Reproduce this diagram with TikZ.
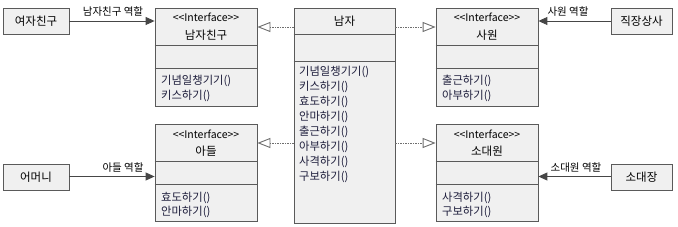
\documentclass[tikz,border=0pt]{standalone}
\usepackage{fontspec}
\setmainfont{Noto Sans CJK KR}
\usetikzlibrary{arrows.meta,shadows}
\definecolor{boxline}{RGB}{90,90,90}
\definecolor{boxfill}{RGB}{240,240,240}
\definecolor{optext}{RGB}{30,30,60}
\definecolor{arrowcol}{RGB}{70,70,70}
\definecolor{dotcol}{RGB}{110,110,110}
\newcommand{\stereotxt}{{<}{<}Interface{>}{>}}
\tikzset{
  umlbox/.style={draw=boxline, fill=boxfill, line width=0.8pt, inner sep=0pt,
    drop shadow={shadow xshift=1.3pt, shadow yshift=-1.3pt, opacity=0.3}},
  actor/.style={umlbox, minimum height=26pt, font=\fontsize{11.5}{13}\selectfont},
  stereo/.style={font=\fontsize{10.5}{12}\selectfont, inner sep=0pt},
  cname/.style={font=\fontsize{11.5}{13}\selectfont, inner sep=0pt},
  opline/.style={font=\fontsize{11.3}{13}\selectfont, anchor=west, inner sep=0pt, text=optext},
  role/.style={font=\fontsize{10.5}{12}\selectfont, inner sep=0pt},
  divider/.style={draw=boxline, line width=0.8pt},
  assoc/.style={draw=arrowcol, line width=0.9pt, -{Triangle[length=9pt,width=8pt]}},
  realize/.style={draw=dotcol, line width=0.9pt, dash pattern=on 1.5pt off 1pt,
    -{Triangle[open,length=13pt,width=10pt,fill=white]}},
}
\begin{document}
\begin{tikzpicture}[x=1pt,y=-1pt]
\useasboundingbox (0,0) rectangle (678,227);

% actors
\node[actor, minimum width=66pt] (gf) at (36,21) {여자친구};
\node[actor, minimum width=61pt] (boss) at (641.5,21) {직장상사};
\node[actor, minimum width=66pt] (mom) at (36,177) {어머니};
\node[actor, minimum width=61pt] (sgt) at (641.5,177) {소대장};

% interface boxes
\node[umlbox, minimum width=102pt, minimum height=98pt] (bf) at (206,57) {};
\node[umlbox, minimum width=102pt, minimum height=98pt] (emp) at (487,57) {};
\node[umlbox, minimum width=102pt, minimum height=97pt] (son) at (206,172.5) {};
\node[umlbox, minimum width=102pt, minimum height=97pt] (sol) at (487,172.5) {};
% man
\node[umlbox, minimum width=101pt, minimum height=215pt] (man) at (344.5,115.5) {};

% dividers
\draw[divider] (bf.west |- 0,45) -- (bf.east |- 0,45);
\draw[divider] (bf.west |- 0,68) -- (bf.east |- 0,68);
\draw[divider] (emp.west |- 0,45) -- (emp.east |- 0,45);
\draw[divider] (emp.west |- 0,68) -- (emp.east |- 0,68);
\draw[divider] (son.west |- 0,161) -- (son.east |- 0,161);
\draw[divider] (son.west |- 0,184) -- (son.east |- 0,184);
\draw[divider] (sol.west |- 0,161) -- (sol.east |- 0,161);
\draw[divider] (sol.west |- 0,184) -- (sol.east |- 0,184);
\draw[divider] (man.west |- 0,34) -- (man.east |- 0,34);
\draw[divider] (man.west |- 0,61) -- (man.east |- 0,61);

% headers
\node[stereo] (bfst) at (206,17) {\stereotxt};
\node[cname] (bfnm) at (206,35) {남자친구};
\node[stereo] (empst) at (487,17) {\stereotxt};
\node[cname] (empnm) at (487,35) {사원};
\node[stereo] (sonst) at (206,134.5) {\stereotxt};
\node[cname] (sonnm) at (206,151) {아들};
\node[stereo] (solst) at (487,134.5) {\stereotxt};
\node[cname] (solnm) at (487,151) {소대원};
\node[cname] (mannm) at (344.5,21.5) {남자};

% operations
\node[opline] (bf1) at (161,81) {기념일챙기기()};
\node[opline] (bf2) at (161,96) {키스하기()};
\node[opline] (emp1) at (442,81) {출근하기()};
\node[opline] (emp2) at (442,96) {아부하기()};
\node[opline] (son1) at (161,197.5) {효도하기()};
\node[opline] (son2) at (161,212) {안마하기()};
\node[opline] (sol1) at (442,197.5) {사격하기()};
\node[opline] (sol2) at (442,212) {구보하기()};
\foreach \t [count=\i] in {기념일챙기기(),키스하기(),효도하기(),안마하기(),출근하기(),아부하기(),사격하기(),구보하기()}
  \node[opline] (man\i) at (299,{72+15*(\i-1)}) {\t};

% associations
\coordinate (a1) at (0,21);
\coordinate (a2) at (0,176.5);
\draw[assoc] (gf.east |- a1) -- (bf.west |- a1);
\draw[assoc] (boss.west |- a1) -- (emp.east |- a1);
\draw[assoc] (mom.east |- a2) -- (son.west |- a2);
\draw[assoc] (sgt.west |- a2) -- (sol.east |- a2);

\node[role] (r1) at (113,12) {남자친구 역할};
\node[role] (r2) at (568,12) {사원 역할};
\node[role] (r3) at (123,167.5) {아들 역할};
\node[role] (r4) at (576,168) {소대원 역할};

% realizations
\coordinate (d1) at (0,27);
\coordinate (d2) at (0,143);
\draw[realize] (man.west |- d1) -- (bf.east |- d1);
\draw[realize] (man.east |- d1) -- (emp.west |- d1);
\draw[realize] (man.west |- d2) -- (son.east |- d2);
\draw[realize] (man.east |- d2) -- (sol.west |- d2);
\end{tikzpicture}
\end{document}
